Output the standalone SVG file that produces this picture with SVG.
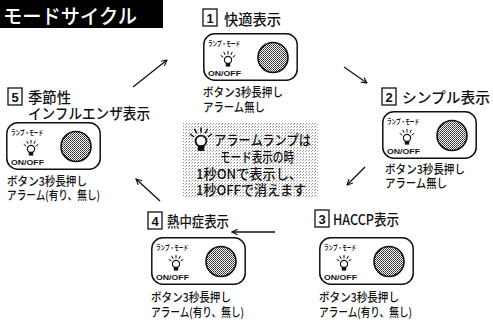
<svg xmlns="http://www.w3.org/2000/svg" xmlns:xlink="http://www.w3.org/1999/xlink" width="493" height="320" viewBox="0 0 493 320">
  <style>
    .jp { font-family: "Noto Sans CJK JP", "Noto Sans", sans-serif; font-weight: 500; fill: #111; }
    .lbl { font-size: 14.5px; }
    .body { font-size: 12px; }
    .note { font-size: 13.5px; }
    .num { font-family: "Liberation Sans", Arial, sans-serif; font-size: 13px; font-weight: bold; fill: #111; text-anchor: middle; }
    .sq { fill: #fff; stroke: #111; stroke-width: 1.3; }
    .tiny { font-family: "Noto Sans CJK JP", sans-serif; font-size: 7px; font-weight: 700; fill: #111; }
    .onoff { font-family: "Liberation Sans", Arial, sans-serif; font-size: 8px; font-weight: bold; fill: #111; }
    .conn line { stroke: #111; stroke-width: 1.3; marker-end: url(#head); }
  </style>
  <defs>
    <!-- halftone fill used for the round button -->
    <pattern id="halftone" width="2" height="2" patternUnits="userSpaceOnUse">
      <rect width="2" height="2" fill="#fff"/>
      <rect x="0" y="0" width="1" height="1" fill="#222"/>
      <rect x="1" y="1" width="1" height="1" fill="#555"/>
    </pattern>
    <!-- light stipple behind the note -->
    <pattern id="stipple" width="3" height="3" patternUnits="userSpaceOnUse">
      <rect width="3" height="3" fill="#fff"/>
      <rect x="0" y="0" width="1" height="1" fill="#8a8a8a"/>
      <rect x="2" y="1" width="1" height="1" fill="#b0b0b0"/>
    </pattern>
    <marker id="head" viewBox="0 0 10 10" refX="9" refY="5" markerWidth="7" markerHeight="7" markerUnits="userSpaceOnUse" orient="auto">
      <path d="M1,1 L9,5 L1,9" fill="none" stroke="#111" stroke-width="1.6"/>
    </marker>
    <!-- small light bulb with rays -->
    <g id="bulb">
      <g stroke="#111" stroke-width="1" stroke-linecap="round">
        <line x1="-5" y1="-3" x2="-7" y2="-4.5"/>
        <line x1="-3" y1="-5.5" x2="-4.2" y2="-7.8"/>
        <line x1="0" y1="-6" x2="0" y2="-8.6"/>
        <line x1="3" y1="-5.5" x2="4.2" y2="-7.8"/>
        <line x1="5" y1="-3" x2="7" y2="-4.5"/>
      </g>
      <circle cx="0" cy="0" r="3.6" fill="#fff" stroke="#111" stroke-width="1.2"/>
      <rect x="-2.2" y="2.8" width="4.4" height="3.8" fill="#111"/>
    </g>
    <!-- lamp / mode panel with ON/OFF button -->
    <g id="panel">
      <rect x="0.8" y="0.8" width="93.4" height="46.4" rx="11" fill="#fff" stroke="#111" stroke-width="1.5"/>
      <text class="tiny" x="5" y="13" textLength="32" lengthAdjust="spacingAndGlyphs">ランプ・モード</text>
      <use xlink:href="#bulb" x="25" y="27"/>
      <text class="onoff" x="5" y="43" textLength="33" lengthAdjust="spacingAndGlyphs">ON/OFF</text>
      <circle cx="70" cy="24.5" r="15" fill="url(#halftone)" stroke="#111" stroke-width="1.6"/>
    </g>
  </defs>

  <rect width="493" height="320" fill="#fff"/>

  <!-- heading -->
  <g id="title">
    <rect x="0" y="0" width="163" height="28" fill="#000"/>
    <text x="3" y="23.5" font-family="'Noto Sans CJK JP', sans-serif" font-size="20" font-weight="500" fill="#fff" textLength="134" lengthAdjust="spacingAndGlyphs">モードサイクル</text>
  </g>

  <!-- connectors -->
  <g id="connectors" class="conn">
    <line x1="344" y1="67" x2="367" y2="83"/>
    <line x1="365" y1="167" x2="347" y2="185"/>
    <line x1="275" y1="232" x2="232" y2="232"/>
    <line x1="160" y1="201" x2="136" y2="179"/>
    <line x1="133" y1="87" x2="167" y2="60"/>
  </g>

  <!-- mode 1 -->
  <g id="mode1">
    <rect class="sq" x="203" y="9" width="14" height="17"/>
    <text class="num" x="210" y="23">1</text>
    <text class="jp lbl" x="224" y="25" textLength="57" lengthAdjust="spacingAndGlyphs">快適表示</text>
    <use xlink:href="#panel" x="203" y="33"/>
    <text class="jp body" x="203" y="97" textLength="80" lengthAdjust="spacingAndGlyphs">ボタン3秒長押し</text>
    <text class="jp body" x="203" y="112" textLength="62" lengthAdjust="spacingAndGlyphs">アラーム無し</text>
  </g>

  <!-- mode 2 -->
  <g id="mode2">
    <rect class="sq" x="382" y="88" width="14" height="17"/>
    <text class="num" x="389" y="102">2</text>
    <text class="jp lbl" x="402" y="103" textLength="88" lengthAdjust="spacingAndGlyphs">シンプル表示</text>
    <use xlink:href="#panel" x="382" y="111"/>
    <text class="jp body" x="385" y="174" textLength="80" lengthAdjust="spacingAndGlyphs">ボタン3秒長押し</text>
    <text class="jp body" x="385" y="188" textLength="62" lengthAdjust="spacingAndGlyphs">アラーム無し</text>
  </g>

  <!-- mode 3 -->
  <g id="mode3">
    <rect class="sq" x="315" y="210" width="14" height="17"/>
    <text class="num" x="322" y="224">3</text>
    <text class="jp lbl" x="333" y="225" textLength="66" lengthAdjust="spacingAndGlyphs">HACCP表示</text>
    <use xlink:href="#panel" x="319" y="237"/>
    <text class="jp body" x="319" y="302" textLength="80" lengthAdjust="spacingAndGlyphs">ボタン3秒長押し</text>
    <text class="jp body" x="319" y="317" textLength="93" lengthAdjust="spacingAndGlyphs">アラーム(有り、無し)</text>
  </g>

  <!-- mode 4 -->
  <g id="mode4">
    <rect class="sq" x="148" y="212" width="14" height="17"/>
    <text class="num" x="155" y="226">4</text>
    <text class="jp lbl" x="167" y="227" textLength="62" lengthAdjust="spacingAndGlyphs">熱中症表示</text>
    <use xlink:href="#panel" x="151" y="237"/>
    <text class="jp body" x="151" y="302" textLength="80" lengthAdjust="spacingAndGlyphs">ボタン3秒長押し</text>
    <text class="jp body" x="151" y="317" textLength="93" lengthAdjust="spacingAndGlyphs">アラーム(有り、無し)</text>
  </g>

  <!-- mode 5 -->
  <g id="mode5">
    <rect class="sq" x="8" y="88" width="14" height="17"/>
    <text class="num" x="15" y="102">5</text>
    <text class="jp lbl" x="28" y="103" textLength="43" lengthAdjust="spacingAndGlyphs">季節性</text>
    <text class="jp lbl" x="28" y="119" textLength="122" lengthAdjust="spacingAndGlyphs">インフルエンザ表示</text>
    <use xlink:href="#panel" x="6" y="122"/>
    <text class="jp body" x="7" y="186" textLength="80" lengthAdjust="spacingAndGlyphs">ボタン3秒長押し</text>
    <text class="jp body" x="7" y="200" textLength="93" lengthAdjust="spacingAndGlyphs">アラーム(有り、無し)</text>
  </g>

  <!-- alarm lamp note -->
  <g id="note">
    <rect x="183" y="123" width="135" height="74" fill="url(#stipple)"/>
    <use xlink:href="#bulb" transform="translate(201,141) scale(1.5)"/>
    <text class="jp note" x="214" y="145" textLength="97" lengthAdjust="spacingAndGlyphs">アラームランプは</text>
    <text class="jp note" x="220" y="162" textLength="74" lengthAdjust="spacingAndGlyphs">モード表示の時</text>
    <text class="jp note" x="196" y="179" textLength="106" lengthAdjust="spacingAndGlyphs">1秒ONで表示し、</text>
    <text class="jp note" x="196" y="195" textLength="110" lengthAdjust="spacingAndGlyphs">1秒OFFで消えます</text>
  </g>
</svg>
